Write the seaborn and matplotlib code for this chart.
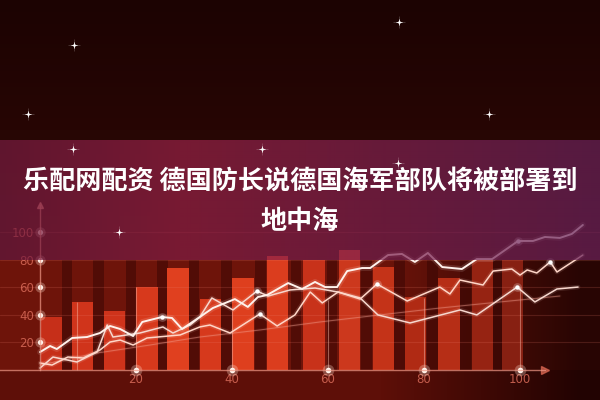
import numpy as np
import matplotlib
matplotlib.use("Agg")
import matplotlib.pyplot as plt
import seaborn as sns

sns.set_theme(style="dark")
plt.rcParams["font.family"] = ["Noto Sans CJK SC", "DejaVu Sans"]

# ---------------- data ----------------
title_lines = ["乐配网配资 德国防长说德国海军部队将被部署到", "地中海"]
y_ticks = [20, 40, 60, 80, 100]
x_ticks = [20, 40, 60, 80, 100]

bar_x = [2.4, 8.85, 15.6, 22.3, 28.75, 35.5, 42.3, 49.5, 57.1, 64.5, 71.5, 78.3, 85.2, 92.2, 98.5]
bar_h = [38.4, 49.3, 42.8, 60.1, 73.9, 51.4, 66.7, 82.6, 79.7, 87.0, 74.6, 52.9, 66.7, 79.7, 79.7]
bar_colors = ["#c62f19", "#d0341b", "#cf331b", "#d7391c", "#e0401f", "#d6391c", "#de3f1e",
              "#db3d1e", "#c8321a", "#cc381d", "#c43318", "#b02a14", "#b62e16", "#962312", "#872012"]

line_t_x = [0, 2.1, 3.5, 6.7, 9.8, 12.5, 14.6, 16.7, 19.4, 21.3, 25.4, 27.5, 29.6, 33.3, 36.0, 40.6,
            43.3, 45.4, 47.3, 51.7, 54.6, 57.3, 59.4, 61.9, 64.0, 67.1, 68.8, 72.5, 75.4, 78.1, 80.8,
            83.8, 87.9, 91.0, 94.2, 99.6, 102.7, 105.2, 108.3, 110.8, 113.1]
line_t_y = [13.0, 17.4, 15.2, 23.2, 23.9, 26.8, 31.9, 29.7, 24.6, 34.8, 38.4, 37.7, 29.7, 38.4, 44.9,
            51.4, 45.7, 52.9, 54.3, 63.0, 58.7, 63.8, 60.1, 60.1, 71.7, 73.9, 73.9, 83.3, 84.1, 78.3,
            84.8, 74.6, 73.2, 80.4, 80.4, 93.5, 93.5, 96.4, 95.7, 98.6, 105.1]
line_t_dots = [10, 35]

line_m_x = [0, 2.5, 5.8, 9.0, 12.5, 14.6, 16.7, 19.4, 22.3, 29.2, 33.3, 35.4, 39.6, 45.8, 49.4, 53.1,
            56.3, 58.8, 62.1, 66.7, 70.2, 76.5, 83.3, 85.4, 87.5, 92.3, 94.4, 98.3, 100.0, 101.5,
            103.5, 106.3, 107.7, 113.1]
line_m_y = [5.1, 3.6, 9.4, 8.7, 14.5, 20.3, 21.7, 18.1, 23.2, 25.4, 31.2, 32.6, 26.8, 40.6, 31.9, 39.9,
            56.5, 48.6, 56.5, 51.4, 62.3, 50.0, 60.1, 55.1, 65.2, 61.6, 71.7, 73.2, 68.8, 72.5,
            70.3, 78.3, 71.0, 83.3]
line_m_dots = [13, 20, 31]

line_b_x = [0, 2.7, 7.7, 11.9, 14.0, 15.2, 20.8, 25.6, 27.7, 31.3, 33.3, 35.8, 40.2, 45.2, 47.5, 52.1,
            57.3, 62.1, 66.7, 70.4, 77.1, 87.5, 91.0, 99.4, 103.1, 107.7, 112.1]
line_b_y = [1.4, 9.4, 5.8, 13.0, 32.6, 23.9, 26.8, 31.2, 26.8, 32.6, 38.4, 52.2, 43.5, 57.2, 53.6, 58.0,
            59.4, 56.5, 52.2, 39.9, 34.1, 43.5, 39.9, 60.1, 49.3, 58.7, 60.1]
line_b_dots = [13, 23]

line_f_x = [0, 11.9, 22.9, 33.3, 45.8, 58.3, 70.8, 83.3, 95.8, 108.3]
line_f_y = [3.6, 12.3, 18.1, 23.9, 29.0, 34.8, 39.9, 44.9, 49.3, 53.6]

vline_x = [7.7, 20, 40, 60, 80, 100]
vline_top = [49, 60, 43, 51, 52, 60]

star_px = [(74, 45), (399, 22), (28, 114), (489, 114), (73, 149), (262, 149), (398, 163), (119, 232)]

# ---------------- layout ----------------
W, H = 600, 400
PX_X0, PX_PER_X = 40.0, 4.8
PX_Y0, PX_PER_Y = 370.0, 1.38
XLIM = (-PX_X0 / PX_PER_X, (W - PX_X0) / PX_PER_X)
YLIM = (-(H - PX_Y0) / PX_PER_Y, PX_Y0 / PX_PER_Y)
BANNER_PX = (140, 260)
def py2d(py):
    return (PX_Y0 - py) / PX_PER_Y
def px2d(px):
    return (px - PX_X0) / PX_PER_X

fig = plt.figure(figsize=(6, 4), dpi=100)
ax = fig.add_axes([0, 0, 1, 1])

# background image
bg = np.zeros((H, W, 3))
cols = np.arange(W)
m = np.clip((cols - 380) / 200.0, 0, 1)[None, :, None]
r = np.arange(H)[:, None, None]
top_t = np.clip(r / 259.0, 0, 1)
top = (np.array([28, 3, 2]) + np.array([22, 6, 4]) * top_t) / 255.0
band_l = np.array([110, 20, 10]) / 255.0
band_r = np.array([40, 5, 3]) / 255.0
low_l = np.array([94, 15, 8]) / 255.0
low_r = np.array([34, 3, 2]) / 255.0
band = band_l * (1 - m) + band_r * m
low = low_l * (1 - m) + low_r * m
bg[:] = top * np.ones((1, W, 1))
bg[260:370] = band[0][None, :, :] * np.ones((110, 1, 1))
bg[370:] = low[0][None, :, :] * np.ones((30, 1, 1))
ax.imshow(bg, extent=(XLIM[0], XLIM[1], YLIM[0], YLIM[1]), aspect="auto", zorder=0,
          interpolation="bilinear")

# bars
sns.barplot(x=bar_x, y=bar_h, native_scale=True, width=0.7, ax=ax, zorder=2,
            color=bar_colors[0], errorbar=None, saturation=1)
for patch, c in zip(ax.containers[-1], bar_colors):
    patch.set_facecolor(c)
    patch.set_edgecolor("none")

# dark gap stripes between bars
bx = np.array(bar_x)
mids = (bx[:-1] + bx[1:]) / 2
ax.bar(mids, py2d(BANNER_PX[1]) * np.ones_like(mids), width=2.2, color="#3a0604",
       alpha=0.55, zorder=1.5, linewidth=0)

# faint grid
for yt in y_ticks:
    ax.axhline(yt, color="#f08070", alpha=0.18, lw=0.8, zorder=2.5)
ax.vlines(vline_x, 0, vline_top, color="#f4b0a0", alpha=0.5, lw=0.8, zorder=2.6)

# lines
def draw_line(xv, yv, color, lw, dots=None, alpha=1.0):
    sns.lineplot(x=xv, y=yv, ax=ax, color=color, lw=lw * 3, alpha=0.13 * alpha,
                 sort=False, estimator=None, zorder=3.5)
    sns.lineplot(x=xv, y=yv, ax=ax, color=color, lw=lw, alpha=alpha,
                 sort=False, estimator=None, zorder=4)
    if dots:
        dx = [xv[i] for i in dots]
        dy = [yv[i] for i in dots]
        ax.scatter(dx, dy, s=40, color="white", alpha=0.22, zorder=4.1, linewidths=0)
        ax.scatter(dx, dy, s=10, color="white", zorder=4.2, linewidths=0)

draw_line(line_f_x, line_f_y, "#f3a090", 0.8, alpha=0.45)
draw_line(line_b_x, line_b_y, "#f7d8cf", 1.1, line_b_dots)
draw_line(line_m_x, line_m_y, "#ffd6c8", 1.1, line_m_dots)
draw_line(line_t_x, line_t_y, "#fff2ec", 1.4, line_t_dots)

# axis dots
ax.scatter([0] * len(y_ticks), y_ticks, s=55, color="#ffe0d0", alpha=0.3, zorder=4.3, linewidths=0)
ax.scatter([0] * len(y_ticks), y_ticks, s=14, color="#fff4ec", zorder=4.4, linewidths=0)
ax.scatter(x_ticks, [0] * len(x_ticks), s=70, color="#ffe0d0", alpha=0.3, zorder=4.3, linewidths=0)
ax.scatter(x_ticks, [0] * len(x_ticks), s=16, color="#fff4ec", zorder=4.4, linewidths=0)

# banner
bx_cols = np.arange(W)
c_left = np.array([118, 28, 64]) / 255.0
c_mid = np.array([150, 34, 70]) / 255.0
c_right = np.array([104, 34, 90]) / 255.0
t1 = np.clip(bx_cols / 180.0, 0, 1)[:, None]
t2 = np.clip((bx_cols - 180) / 420.0, 0, 1)[:, None]
row = np.where(bx_cols[:, None] < 180, c_left * (1 - t1) + c_mid * t1, c_mid * (1 - t2) + c_right * t2)
ban = np.zeros((1, W, 4))
ban[0, :, :3] = row
ban[0, :, 3] = 0.72
ax.imshow(ban, extent=(XLIM[0], XLIM[1], py2d(BANNER_PX[1]), py2d(BANNER_PX[0])),
          aspect="auto", zorder=5, interpolation="bilinear")

# stars
sx = [px2d(p[0]) for p in star_px]
sy = [py2d(p[1]) for p in star_px]
ax.scatter(sx, sy, s=70, marker="+", color="white", alpha=0.25, linewidths=0.5, zorder=6)
ax.scatter(sx, sy, s=22, marker="+", color="white", alpha=0.85, linewidths=0.7, zorder=6)
ax.scatter(sx, sy, s=4, color="white", zorder=6.1, linewidths=0)

# axes
ax.set_xlim(*XLIM)
ax.set_ylim(*YLIM)
ax.set_xticks(x_ticks)
ax.set_yticks(y_ticks)
ax.set_xticklabels([str(v) for v in x_ticks])
ax.set_yticklabels([str(v) for v in y_ticks])
ax.grid(False)
for s in ["top", "right"]:
    ax.spines[s].set_visible(False)
ax.spines["left"].set_position(("data", 0))
ax.spines["bottom"].set_position(("data", 0))
ax.spines["left"].set_bounds(0, py2d(205))
ax.spines["bottom"].set_bounds(XLIM[0], px2d(545))
for s in ["left", "bottom"]:
    ax.spines[s].set_color("#f29a88")
    ax.spines[s].set_alpha(0.7)
    ax.spines[s].set_linewidth(1.0)
    ax.spines[s].set_zorder(4.5)
ax.plot([0], [py2d(205)], marker="^", ms=5, color="#f29a88", alpha=0.7, zorder=4.5, clip_on=False)
ax.plot([px2d(545)], [0], marker=">", ms=6, color="#e06a55", alpha=0.7, zorder=4.5, clip_on=False)
ax.tick_params(axis="both", length=0, labelsize=8.5, labelcolor="#d86a58")
ax.tick_params(axis="y", pad=4.3)
ax.tick_params(axis="x", pad=2.5)
for lab in ax.get_xticklabels() + ax.get_yticklabels():
    lab.set_family(["DejaVu Sans"])
    lab.set_alpha(0.85)
ax.set_xlabel("")
ax.set_ylabel("")

# title text
fig.text(0.5, 1 - 181 / 400, title_lines[0], ha="center", va="center", color="white",
         fontsize=18.8, fontweight="bold", family=["Noto Sans CJK SC", "DejaVu Sans"])
fig.text(0.5, 1 - 221 / 400, title_lines[1], ha="center", va="center", color="white",
         fontsize=18.8, fontweight="bold", family=["Noto Sans CJK SC", "DejaVu Sans"])

fig.save_fig = None
fig.savefig("out.png", dpi=100)
